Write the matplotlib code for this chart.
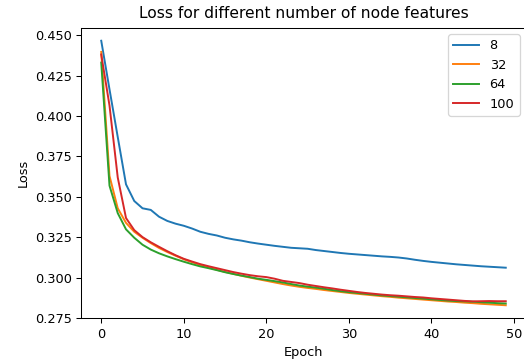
import numpy as np
import matplotlib
matplotlib.use("Agg")
import matplotlib.pyplot as plt
from matplotlib.ticker import MultipleLocator, FormatStrFormatter

# training loss per epoch, one run per node-feature size
epochs = np.arange(50)

loss_8 = [
    0.4465, 0.4165, 0.3870, 0.3578, 0.3475, 0.3430, 0.3420, 0.3378, 0.3352, 0.3335,
    0.3322, 0.3305, 0.3285, 0.3272, 0.3262, 0.3248, 0.3238, 0.3230, 0.3220, 0.3212,
    0.3205, 0.3198, 0.3192, 0.3186, 0.3183, 0.3180, 0.3172, 0.3166, 0.3160, 0.3154,
    0.3149, 0.3145, 0.3141, 0.3137, 0.3133, 0.3130, 0.3126, 0.3120, 0.3112, 0.3105,
    0.3099, 0.3094, 0.3089, 0.3084, 0.3080, 0.3076, 0.3072, 0.3069, 0.3066, 0.3063,
]
loss_32 = [
    0.4396, 0.3630, 0.3430, 0.3340, 0.3285, 0.3248, 0.3215, 0.3185, 0.3160, 0.3137,
    0.3115, 0.3097, 0.3080, 0.3065, 0.3050, 0.3037, 0.3025, 0.3013, 0.3002, 0.2992,
    0.2982, 0.2972, 0.2962, 0.2953, 0.2945, 0.2938, 0.2932, 0.2925, 0.2919, 0.2913,
    0.2907, 0.2902, 0.2897, 0.2892, 0.2887, 0.2883, 0.2878, 0.2874, 0.2870, 0.2866,
    0.2862, 0.2858, 0.2854, 0.2851, 0.2847, 0.2844, 0.2840, 0.2837, 0.2834, 0.2831,
]
loss_64 = [
    0.4330, 0.3570, 0.3400, 0.3300, 0.3248, 0.3205, 0.3175, 0.3152, 0.3133, 0.3116,
    0.3100, 0.3085, 0.3071, 0.3060, 0.3048, 0.3035, 0.3024, 0.3014, 0.3005, 0.2995,
    0.2988, 0.2980, 0.2972, 0.2962, 0.2953, 0.2946, 0.2940, 0.2933, 0.2925, 0.2918,
    0.2912, 0.2907, 0.2902, 0.2897, 0.2892, 0.2888, 0.2884, 0.2880, 0.2876, 0.2872,
    0.2868, 0.2864, 0.2860, 0.2857, 0.2855, 0.2853, 0.2850, 0.2847, 0.2844, 0.2842,
]
loss_100 = [
    0.4380, 0.4065, 0.3620, 0.3370, 0.3295, 0.3252, 0.3220, 0.3192, 0.3165, 0.3140,
    0.3118, 0.3101, 0.3085, 0.3072, 0.3060, 0.3048, 0.3036, 0.3026, 0.3017, 0.3010,
    0.3005, 0.2995, 0.2982, 0.2975, 0.2968, 0.2958, 0.2950, 0.2942, 0.2935, 0.2927,
    0.2920, 0.2913, 0.2907, 0.2902, 0.2897, 0.2893, 0.2890, 0.2886, 0.2882, 0.2879,
    0.2874, 0.2870, 0.2866, 0.2862, 0.2858, 0.2855, 0.2856, 0.2857, 0.2856, 0.2856,
]

labels = ["8", "32", "64", "100"]
series = [loss_8, loss_32, loss_64, loss_100]

DPI = 93
fig = plt.figure(figsize=(524 / DPI, 362 / DPI), dpi=DPI)
ax = fig.add_axes([0.1546, 0.1202, 0.8492, 0.8038])

for lbl, vals in zip(labels, series):
    ax.plot(epochs, vals, label=lbl)

ax.yaxis.set_major_locator(MultipleLocator(0.025))
ax.yaxis.set_major_formatter(FormatStrFormatter("%.3f"))

ax.set_title("Loss for different number of node features", pad=7)
ax.set_xlabel("Epoch")
ax.set_ylabel("Loss")
ax.legend(loc="upper right")

fig.savefig("out.png", dpi=DPI)
